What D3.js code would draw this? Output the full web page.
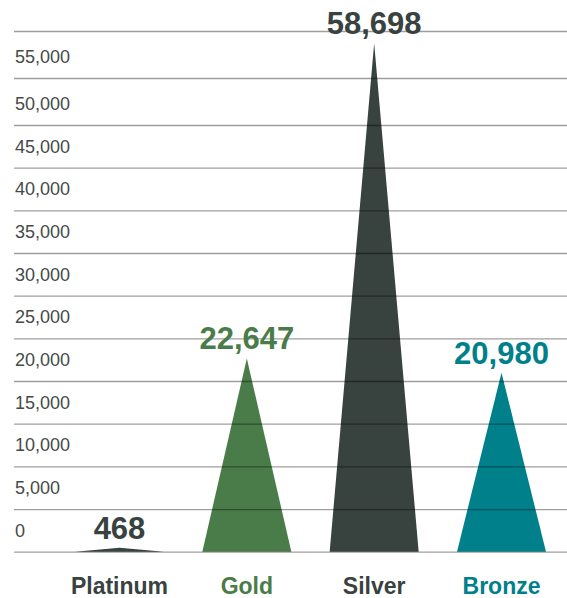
<!DOCTYPE html>
<html>
<head>
<meta charset="utf-8">
<script src="https://cdn.jsdelivr.net/npm/d3@7"></script>
<style>
  html, body { margin: 0; padding: 0; background: #ffffff; }
  svg { display: block; font-family: "Liberation Sans", Arial, Helvetica, sans-serif; }
</style>
</head>
<body>
<svg id="chart" width="567" height="598"></svg>
<script>
// Metal output by category
const categories = ["Platinum", "Gold", "Silver", "Bronze"];
const values = [468, 22647, 58698, 20980];
const colors = ["#38423f", "#4a7c49", "#38423f", "#00808b"];
const tickValues = [0, 5000, 10000, 15000, 20000, 25000, 30000, 35000, 40000, 45000, 50000, 55000, 60000];
const tickLabels = ["0", "5,000", "10,000", "15,000", "20,000", "25,000", "30,000", "35,000", "40,000", "45,000", "50,000", "55,000", ""];

const svg = d3.select("#chart");

// Value axis: stretched upper segment for the tallest category
const y = d3.scaleLinear()
  .domain([0, 50000, 60000])
  .range([551.7, 125, 31]);

const x = d3.scalePoint()
  .domain(categories)
  .range([119.5, 501.5]);

const halfBase = 44.5;
const fmt = d3.format(",");

// Triangular markers
svg.append("g")
  .selectAll("path")
  .data(categories)
  .join("path")
  .attr("d", (c, i) => {
    const cx = x(c);
    return `M${cx - halfBase},${y(0)}L${cx},${y(values[i])}L${cx + halfBase},${y(0)}Z`;
  })
  .attr("fill", (c, i) => colors[i]);

// Gridlines drawn over the markers, running from the right edge leftwards
const yAxis = d3.axisLeft(y)
  .tickValues(tickValues)
  .tickSize(553)
  .tickFormat("");
const grid = svg.append("g")
  .attr("transform", "translate(567,0)")
  .call(yAxis);
grid.select(".domain").remove();
grid.selectAll(".tick line")
  .attr("stroke", "rgba(0,0,0,0.38)")
  .attr("stroke-width", 1.3);

// Axis labels sit just above their gridline
svg.append("g")
  .selectAll("text")
  .data(tickValues)
  .join("text")
  .attr("x", 15)
  .attr("y", d => y(d) - 15)
  .attr("font-size", 18)
  .attr("fill", "#454a48")
  .text((d, i) => tickLabels[i]);

// Value labels above each peak
svg.append("g")
  .selectAll("text")
  .data(categories)
  .join("text")
  .attr("x", c => x(c))
  .attr("y", (c, i) => y(values[i]) - 9)
  .attr("text-anchor", "middle")
  .attr("font-size", 31)
  .attr("font-weight", "bold")
  .attr("fill", (c, i) => colors[i])
  .text((c, i) => fmt(values[i]));

// Category names
svg.append("g")
  .selectAll("text")
  .data(categories)
  .join("text")
  .attr("x", c => x(c))
  .attr("y", 594)
  .attr("text-anchor", "middle")
  .attr("font-size", 23)
  .attr("font-weight", "bold")
  .attr("fill", (c, i) => colors[i])
  .text(c => c);
</script>
</body>
</html>
